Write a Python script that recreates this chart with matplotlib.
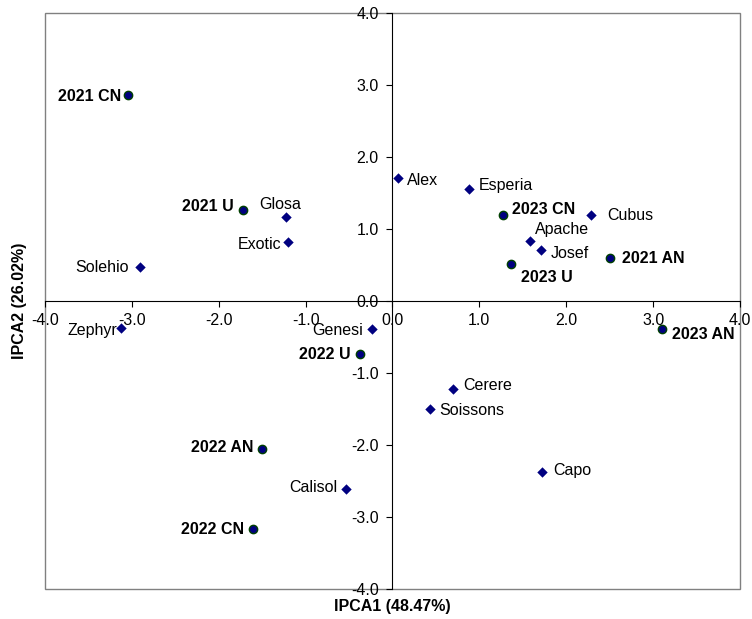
import numpy as np
import matplotlib
matplotlib.use('Agg')
import matplotlib.pyplot as plt
from matplotlib.patches import Rectangle

plt.rcParams['font.family'] = ['Liberation Sans', 'DejaVu Sans']

# genotype scores (IPCA1, IPCA2)
genotypes = ['Glosa', 'Exotic', 'Solehio', 'Alex', 'Esperia', 'Cubus', 'Apache', 'Josef',
             'Zephyr', 'Genesi', 'Calisol', 'Cerere', 'Soissons', 'Capo']
gen_x = [-1.23, -1.20, -2.91, 0.06, 0.88, 2.28, 1.58, 1.71,
         -3.13, -0.23, -0.54, 0.70, 0.43, 1.72]
gen_y = [1.16, 0.82, 0.47, 1.71, 1.55, 1.20, 0.84, 0.71,
         -0.37, -0.39, -2.61, -1.22, -1.50, -2.38]

# environment scores
environments = ['2021 CN', '2021 U', '2021 AN', '2022 CN', '2022 U', '2022 AN',
                '2023 CN', '2023 U', '2023 AN']
env_x = [-3.05, -1.72, 2.50, -1.60, -0.37, -1.50, 1.27, 1.37, 3.10]
env_y = [2.86, 1.27, 0.60, -3.17, -0.73, -2.05, 1.19, 0.52, -0.39]

# label offsets in points and alignment
gen_off = {'Glosa': (-4, 9, 'center'), 'Exotic': (-5, -2, 'right'), 'Solehio': (-8, 0, 'right'),
           'Alex': (7, -2, 'left'), 'Esperia': (7, 2.5, 'left'), 'Cubus': (12, -1, 'left'),
           'Apache': (3.6, 8, 'left'), 'Josef': (7, -2.6, 'left'), 'Zephyr': (-2.4, -2, 'right'),
           'Genesi': (-6.8, -1, 'right'), 'Calisol': (-6.2, 1.2, 'right'), 'Cerere': (7, 2.2, 'left'),
           'Soissons': (7, -1, 'left'), 'Capo': (8, 1.2, 'left')}
env_off = {'2021 CN': (-4.3, -1.2, 'right'), '2021 U': (-6.5, 1.9, 'right'), '2021 AN': (9, -0.7, 'left'),
           '2022 CN': (-6.5, 0, 'right'), '2022 U': (-6.7, -0.7, 'right'), '2022 AN': (-6.5, 0.7, 'right'),
           '2023 CN': (6.7, 4, 'left'), '2023 U': (6.8, -9.8, 'left'), '2023 AN': (7, -3.6, 'left')}

fig = plt.figure(figsize=(7.52, 6.19), dpi=100)
ax = fig.add_axes([0.0598, 0.0485, 0.9242, 0.9305])
ax.set_xlim(-4, 4)
ax.set_ylim(-4, 4)

ax.spines['left'].set_position('zero')
ax.spines['bottom'].set_position('zero')
ax.spines['top'].set_visible(False)
ax.spines['right'].set_visible(False)
ax.add_patch(Rectangle((0, 0), 1, 1, transform=ax.transAxes, fill=False,
                       edgecolor='#808080', lw=1.0, clip_on=False, zorder=0))

ticks = np.arange(-4, 4.1, 1.0)
ax.set_xticks(ticks)
ax.set_yticks(ticks)
ax.set_xticklabels([f'{t:.1f}' for t in ticks])
ax.set_yticklabels([f'{t:.1f}' for t in ticks])
ax.tick_params(direction='out', length=4, labelsize=11.5)
ax.tick_params(axis='x', pad=5)
ax.tick_params(axis='y', pad=6)

ax.scatter(gen_x, gen_y, marker='D', s=28, color='#000080', zorder=3, linewidths=0)
ax.scatter(env_x, env_y, marker='o', s=36, color='#000080', edgecolors='#004000',
           linewidths=1.0, zorder=3)

for name, x, y in zip(genotypes, gen_x, gen_y):
    dx, dy, ha = gen_off[name]
    ax.annotate(name, (x, y), xytext=(dx, dy), textcoords='offset points',
                ha=ha, va='center', fontsize=11.5)
for name, x, y in zip(environments, env_x, env_y):
    dx, dy, ha = env_off[name]
    ax.annotate(name, (x, y), xytext=(dx, dy), textcoords='offset points',
                ha=ha, va='center', fontsize=11.5, fontweight='bold')

ax.text(0.5, -0.03, 'IPCA1 (48.47%)', transform=ax.transAxes, ha='center', va='center',
        fontsize=11.5, fontweight='bold')
ax.text(-0.037, 0.5, 'IPCA2 (26.02%)', transform=ax.transAxes, ha='center', va='center',
        rotation=90, fontsize=11.5, fontweight='bold')

fig.savefig('out.png', dpi=100)
